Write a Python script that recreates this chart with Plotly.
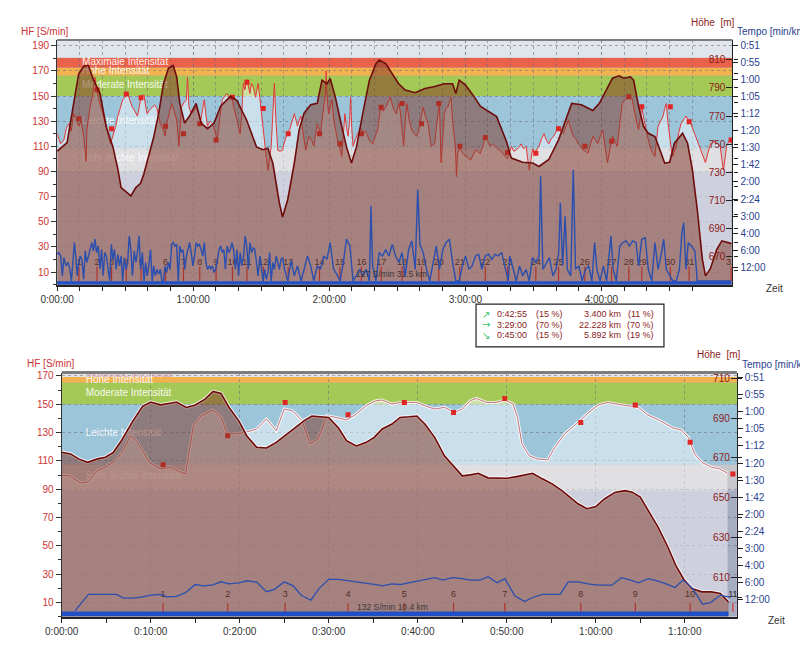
import plotly.graph_objects as go

FONT = "Liberation Sans, Arial, sans-serif"

# ======================= DATA: overview (whole tour) =======================
top_elev_t = [0.1, 4.4, 7.3, 9.5, 11.7, 13.8, 16.0, 18.9, 21.7, 24.6, 26.8, 28.2, 31.1, 32.5, 34.7, 36.8, 38.3, 40.4,
              42.6, 44.8, 46.9, 49.1, 51.2, 52.7, 54.1, 56.2, 58.4, 61.3, 63.5, 66.3, 69.2, 72.1, 76.4, 79.3, 83.6,
              87.9, 90.8, 92.9, 95.1, 98.0, 99.4, 101.7, 104.6, 106.7, 108.9, 111.8, 114.7, 116.8, 119.0, 120.4,
              122.6, 125.5, 127.6, 129.8, 132.0, 134.8, 137.7, 140.6, 142.0, 144.9, 147.8, 150.6, 153.5, 157.9,
              162.2, 166.5, 170.8, 174.4, 175.8, 177.3, 180.1, 183.8, 186.6, 189.5, 193.8, 198.1, 200.3, 205.3,
              209.7, 212.5, 216.8, 221.1, 224.0, 226.9, 231.2, 236.2, 239.1, 242.0, 244.9, 247.8, 249.9, 252.8,
              254.2, 256.4, 258.6, 260.7, 263.6, 265.8, 267.9, 270.1, 272.2, 275.8, 278.0, 280.1, 282.3, 284.5,
              285.9, 288.0, 290.9, 293.1, 297.4]
top_elev_m = [745, 751, 779, 800, 805.5, 806, 796, 786, 762, 748, 732, 719, 715, 713, 719, 722, 729, 741,
              755, 772, 793, 804, 806, 798, 779, 765, 770, 779, 765, 761, 765, 777, 784, 781, 767,
              748, 746, 747, 736.5, 708, 698, 710.5, 736.5, 760, 772, 778, 779, 795.6, 793, 796.7,
              784, 762.5, 748, 736.5, 748, 772, 795.6, 807.4, 810, 807.4, 800, 793, 788.5, 786.6,
              789.7, 791, 793, 793, 786, 795.6, 792, 784, 777, 774, 769.6, 752, 740, 737,
              736.5, 734, 739, 753, 766, 779, 778, 774, 779, 788.5, 797, 798.7, 797, 798,
              795.6, 777, 762.5, 757.7, 755.4, 746, 736.5, 737, 750.6, 757.7, 750.6, 732, 703, 668,
              656, 661, 675, 681, 679]

top_hf_t = [0.1, 1.5, 3.0, 4.0, 5.2, 6.2, 7.3, 8.4, 9.5, 10.5, 11.7, 12.8, 13.1, 14.5, 15.6, 16.7, 17.4, 18.8, 19.9,
            21.0, 22.4, 23.5, 24.6, 25.7, 26.8, 27.8, 28.9, 30.0, 31.1, 32.2, 33.2, 34.3, 35.4, 36.1, 36.8, 37.6,
            38.3, 39.0, 39.7, 40.8, 41.9, 43.0, 44.0, 44.8, 45.5, 46.2, 46.9, 47.6, 48.3, 49.4, 50.5, 51.6, 52.7,
            53.7, 54.3, 54.8, 56.0, 57.0, 57.5, 58.1, 59.1, 60.2, 61.3, 62.3, 63.4, 64.2, 64.9, 65.6, 66.3, 67.4,
            68.5, 69.6, 70.6, 71.7, 72.8, 73.9, 75.0, 76.0, 77.1, 77.8, 78.6, 79.7, 80.7, 81.4, 82.1, 82.8, 83.6,
            84.3, 85.0, 85.7, 86.5, 87.5, 88.6, 89.3, 90.1, 90.8, 91.5, 92.3, 93.0, 93.7, 94.4, 95.1, 95.8, 96.5,
            97.3, 98.3,
            99.4, 100.0, 101.0, 101.8, 102.5, 103.6, 104.6, 105.3, 106.0, 106.8, 107.5, 108.5, 109.6, 110.3,
            111.1, 112.2, 113.2, 114.0, 114.7, 115.4, 116.1, 116.9, 117.6, 118.3, 118.6, 119.0, 119.7, 120.4,
            121.2, 121.9, 122.6, 123.3, 124.0, 124.8, 125.5, 126.2, 126.9, 127.6, 128.3, 129.0, 129.4, 129.9,
            130.5, 131.6, 132.7, 133.8, 134.8, 135.9, 137.0, 138.0, 139.1, 140.2, 141.3, 142.0, 142.7, 143.8,
            144.9, 145.9, 147.0, 147.8, 148.5, 149.6, 150.6, 151.3, 152.1, 152.8, 153.5, 154.2, 155.3, 156.4,
            157.5, 158.6, 159.3, 160.0, 160.7, 161.4, 162.5, 163.6, 164.3, 165.0, 165.7, 166.5, 167.2, 167.9,
            168.6, 169.3, 170.0, 170.8, 171.5, 172.2, 173.0, 173.7, 174.4, 175.1, 175.6, 176.1, 176.6, 177.3,
            178.0, 179.1, 180.1, 181.2, 182.3, 183.4, 184.5, 185.5, 186.6, 187.7, 188.8, 189.9, 190.9, 192.0,
            193.1, 194.2, 195.3, 196.3, 197.4, 198.5,
            199.3, 200.3, 201.4, 202.4, 203.5, 204.6, 205.7, 206.8, 207.5, 208.2, 209.0, 209.7, 210.4, 211.5,
            212.5, 213.6, 214.7, 215.7, 216.8, 217.9, 219.0, 220.1, 221.1, 222.2, 223.3, 224.4, 225.5, 226.5,
            227.6, 228.7, 229.8, 230.8, 231.9, 233.0, 234.1, 235.2, 236.3, 237.3, 238.4, 239.5, 240.6, 241.6,
            242.7, 243.8, 244.9, 246.0, 247.0, 248.1, 249.2, 250.3, 251.4, 252.4, 253.5, 254.3, 255.0, 255.7,
            256.4, 257.1, 257.8, 258.5, 259.3, 260.3, 261.4, 262.5, 263.6, 264.3, 265.0, 266.1, 267.2, 267.9,
            268.6, 269.3, 270.1, 270.8, 271.5, 272.2, 273.0, 274.0, 275.1, 276.2, 277.3, 278.4, 279.4, 280.5,
            281.6, 282.7, 283.7, 284.8, 285.9, 287.0, 288.1, 289.1, 290.2, 291.3, 292.4, 293.1, 293.8, 294.5,
            295.2, 296.0, 296.7, 297.4]
top_hf = [120, 112, 115, 124, 128, 122, 136, 132, 126, 130, 118, 98, 123, 141, 150, 165, 155, 144, 138,
          131, 120, 112, 118, 125, 134, 140, 147, 149, 152, 146, 141, 138, 134, 140, 147, 150,
          151, 142, 136, 139, 141, 143, 140, 133, 128, 125, 123, 118, 128, 136, 144, 138, 131,
          110, 132, 141, 145, 147, 165, 142, 136, 138, 141, 136, 131, 140, 147, 135, 126, 130,
          128, 122, 115, 132, 147, 150, 152, 148, 149, 142, 136, 128, 120, 135, 160, 155, 163,
          158, 152, 160, 157, 149, 160, 150, 136, 124, 110, 100, 91, 102, 110, 135, 160, 130,
          107, 106,
          107, 112, 118, 122, 123, 130, 136, 131, 126, 131, 134, 120, 107, 112,
          118, 115, 110, 120, 128, 124, 120, 132, 144, 152, 170, 150, 136, 142,
          147, 132, 123, 118, 112, 108, 102, 120, 136, 125, 118, 130, 149, 125,
          110, 116, 120, 125, 120, 122, 118, 114, 112, 118, 123, 132, 141, 138,
          141, 145, 149, 143, 139, 136, 144, 138, 125, 110, 130, 144, 130, 123,
          120, 118, 122, 128, 135, 141, 133, 128, 118, 110, 111, 112, 125, 136,
          144, 97, 120, 136, 140, 141, 145, 149, 130, 118, 110, 86, 104, 108,
          107, 104, 102, 101, 99, 103, 107, 106, 104.5, 110, 118, 114, 110, 112,
          110, 108, 107, 105, 103, 100,
          104, 110, 106, 107, 109, 112, 108, 110, 100, 91, 100, 108, 104.5, 108,
          110, 116, 120, 115, 112, 116, 118, 122, 126, 122, 120, 126, 131, 124,
          118, 116, 112, 110, 107, 106, 104.5, 112, 118, 115, 112, 118, 123, 110,
          97, 108, 118, 114, 110, 128, 144, 147, 149, 150, 148, 140, 134, 128,
          123, 132, 141, 134, 126, 118, 110, 105, 102, 115, 126, 130, 134, 140,
          144, 130, 118, 108, 102, 106, 110, 120, 128, 131, 134, 131, 128, 123,
          118, 112, 107, 102, 97, 105, 112, 113, 114, 112, 110, 100, 91, 100,
          110, 113, 115, 112]

top_tempo_t = [0.0, 0.7, 1.6, 2.3, 3.0, 3.9, 4.8, 5.6, 6.3, 7.1, 7.6, 8.2, 8.8, 9.5, 10.2, 10.9, 11.7, 12.4,
               13.1, 13.8, 14.5, 15.3, 16.0, 16.7, 17.4, 18.1, 18.9, 19.6, 20.3, 21.0, 21.7, 22.4, 23.2, 23.9,
               24.6, 25.3, 26.0, 26.8, 27.5, 28.2, 28.9, 29.6, 30.4, 31.1, 31.8, 32.5, 33.2, 34.0, 34.7, 35.4,
               36.1, 36.8, 37.6, 38.3, 39.0, 39.7, 40.4, 41.2, 41.9, 42.6, 43.3, 44.0, 44.8, 45.5, 46.2, 46.9,
               47.6, 48.3, 49.1, 49.8, 50.5, 51.2, 51.9, 52.7, 53.4, 54.1, 54.8, 55.5, 56.3, 57.0, 57.7, 58.4,
               59.1, 59.9, 60.6, 61.3, 62.0, 62.7, 63.5, 64.2, 64.9, 65.6, 66.3, 67.1, 67.8, 68.5, 69.2, 69.9,
               70.7, 71.4, 72.1, 72.8, 73.5, 74.2, 75.0, 75.7, 76.4, 77.1, 77.8, 78.6, 79.3, 80.0, 80.7, 81.4,
               82.2, 82.9, 83.6, 84.3, 85.0, 85.8, 86.5, 87.2, 87.9, 88.6, 89.4, 90.1, 90.8, 91.5, 92.2, 93.0,
               93.7, 94.4, 95.1, 95.8, 96.6, 97.3, 98.0, 98.7,
               99.4, 100.3, 101.7, 103.2, 104.6, 106.0, 107.5, 108.9, 110.4, 111.8, 113.2, 114.7, 116.1, 117.6,
               119.0, 120.4, 121.9, 123.3, 124.8, 126.2, 127.6, 129.1, 130.5, 131.9, 133.4, 134.8, 136.3, 137.7,
               138.4, 139.1, 140.6, 142.0, 143.5, 144.9, 146.3, 147.8, 149.2, 150.7, 152.1, 153.5, 155.0, 156.4,
               157.9, 159.0, 160.0, 161.4, 162.9, 164.3, 165.8, 167.2, 168.6, 170.1, 171.5, 173.0, 174.4, 175.8,
               177.3, 178.7, 180.1, 181.6, 183.0, 184.5, 185.9, 187.3, 188.8, 190.2, 191.7, 193.1, 194.5, 196.0,
               197.4, 198.9,
               199.6, 201.0, 202.5, 203.9, 205.3, 206.8, 208.2, 209.6, 211.1, 212.5, 213.2, 214.2, 215.7, 217.1,
               218.6, 220.0, 221.2, 221.9, 222.9, 224.0, 225.0, 226.5, 227.6, 228.6, 230.1, 231.5, 233.0, 234.4,
               235.8, 237.0, 238.0, 239.4, 240.9, 242.3, 244.2, 245.2, 246.6, 248.1, 249.5, 250.9, 252.4, 253.8,
               255.3, 256.4, 257.8, 259.3, 260.7, 262.2, 263.6, 265.0, 266.5, 267.5, 268.6, 270.1, 271.5, 273.0,
               274.4, 275.5, 276.3, 277.3, 278.3, 279.7, 281.2, 282.3, 284.5, 287.3, 290.9, 294.5, 297.1]
top_tempo_kmh = [8.9, 9.4, 8.4, 2.6, 7.9, 5.5, 6.5, 4.5, 1.1, 10.3, 12.3, 8.4, 2.6, 6.5, 8.4, 7.4, 1.6, 9.9,
                 6.5, 8.4, 10.3, 12.3, 9.9, 13.3, 9.4, 11.3, 4.5, 10.3, 2.6, 9.4, 8.4, 5.5, 1.1, 11.8,
                 7.4, 10.3, 4.5, 8.9, 5.5, 8.4, 1.1, 7.9, 4.5, 6.5, 14.2, 10.3, 2.6, 9.9, 6.5, 9.4,
                 14.2, 4.5, 9.4, 1.1, 6.5, 2.6, 5.5, 10.3, 1.1, 5.5, 2.6, 4.5, 3.1, 4.5, 1.1, 1.1,
                 5.5, 3.6, 6.5, 4.5, 11.8, 12.3, 11.3, 11.8, 1.1, 11.3, 9.4, 10.3, 4.5, 8.4, 10.3, 12.3,
                 9.4, 5.5, 8.4, 12.3, 11.3, 11.8, 10.3, 8.4, 12.3, 6.5, 4.5, 5.5, 4.5, 5.5, 3.6, 4.5,
                 7.4, 10.3, 11.3, 9.4, 10.3, 4.5, 11.3, 9.4, 10.3, 12.3, 10.3, 4.5, 10.3, 2.6, 9.4, 5.5,
                 8.4, 14.2, 11.3, 4.5, 12.3, 9.4, 10.8, 10.3, 6.5, 2.6, 8.4, 4.5, 1.1, 4.5, 1.6, 3.6,
                 9.4, 1.1, 6.5, 4.5, 8.4, 6.5, 4.5, 7.4,
                 7.9, 4.5, 1.1, 7.0, 2.6, 5.5, 1.1, 4.5, 8.4, 5.5, 1.1, 5.5, 4.5, 8.4,
                 7.4, 12.3, 4.5, 3.1, 1.1, 6.5, 13.3, 11.3, 1.1, 2.6, 4.5, 2.6, 4.5, 1.1,
                 23.0, 5.5, 1.1, 9.4, 8.4, 10.3, 8.4, 11.8, 8.4, 6.5, 9.4, 2.6, 10.3, 12.8,
                 4.5, 27.8, 11.8, 9.4, 4.5, 1.1, 6.5, 11.3, 4.5, 10.3, 12.3, 13.3, 6.5, 1.1,
                 1.1, 5.5, 8.4, 4.5, 5.5, 8.4, 8.9, 4.5, 8.4, 8.9, 7.4, 8.9, 8.4, 9.4,
                 5.5, 1.1,
                 8.4, 4.5, 1.1, 5.5, 2.6, 4.5, 1.1, 7.9, 6.5, 8.4, 31.7, 4.5, 6.5, 7.9,
                 2.6, 4.5, 9.4, 23.9, 5.5, 20.0, 4.5, 2.6, 33.6, 4.5, 5.5, 1.1, 4.5, 5.5,
                 1.1, 12.3, 4.5, 1.1, 5.5, 1.1, 14.2, 4.5, 1.1, 11.3, 12.3, 12.8, 11.3, 12.8,
                 12.3, 5.5, 13.3, 13.7, 4.5, 1.1, 12.3, 4.5, 9.4, 13.3, 4.5, 2.6, 1.1, 1.1,
                 4.5, 15.2, 18.1, 4.5, 12.3, 11.3, 9.9, 1.1, 1.1, 1.1, 1.1, 1.1, 1.1]

top_km_t = [9.6, 17.6, 24.0, 30.5, 37.0, 47.8, 55.7, 62.9, 70.1, 77.3, 83.7, 90.9, 101.9, 115.7, 124.7, 134.2,
            142.9, 152.1, 160.7, 168.3, 177.6, 188.8, 198.6, 211.1, 221.1, 232.7, 244.5, 252.1, 257.8, 270.4,
            278.7, 297.2]
top_km_hf = [132, 155, 124, 151.5, 148.6, 126, 120, 128, 115, 149, 161, 140, 120, 120, 112, 120,
             141, 144, 128, 144, 110, 117, 105, 104.5, 124, 110, 114, 149.4, 141.5, 141.5,
             129.6, 115]
top_summary = "127 S/min 31.5 km"

# ======================= DATA: detail (first 10.4 km) =======================
bot_elev_t = [0, 1.0, 1.9, 2.9, 4.0, 4.9, 5.8, 6.7, 8.0, 9.1, 10.0, 11.1, 12.0, 12.9, 14.0, 15.0, 16.1, 17.0,
              17.9, 18.8, 19.9, 20.8, 21.9, 23.0, 24.1, 25.0, 26.1, 27.2, 28.1, 29.1, 30.0, 31.1, 32.0, 33.1,
              34.2, 35.1, 36.0, 37.1, 38.0, 39.0, 39.9, 40.8, 41.9, 43.0, 44.1, 45.0, 45.9, 46.8, 47.9, 49.0,
              50.0, 51.1, 52.0, 52.9, 54.0, 55.1, 56.2, 58.0, 59.0, 60.0, 61.0, 62.2, 63.3, 64.1, 65.0, 65.9,
              67.0, 68.1, 69.0, 69.9, 70.8, 71.9, 73.0, 74.0, 74.9]
bot_elev_m = [672.8, 672, 669.5, 667.8, 669.5, 670.3, 672.8, 678.6, 688.6, 696, 698, 696.6, 697.3, 698, 695.3,
              696.5, 699.5, 703.3, 702.3, 695.3, 688.6, 681, 675.3, 675, 677.8, 681, 685, 688.6, 691, 690.6,
              690.3, 685, 678.6, 676, 677.8, 680.3, 684.5, 687, 690.3, 690.6, 691, 687, 680.3, 671, 665.3,
              661, 661.5, 662.3, 660, 659.8, 659.8, 660.6, 661.5, 662.3, 659.5, 657, 653.6, 647, 644.5,
              645.6, 649.5, 652.8, 653.6, 652.8, 650.3, 643.6, 635.3, 625.3, 616, 609, 604.5, 602.8, 602.8,
              602, 597.8]

bot_hf_t = [0, 0.8, 2.1, 2.9, 4.0, 4.9, 6.0, 6.9, 7.7, 8.4, 9.1, 9.8, 11.1, 12.2, 13.1, 13.9, 14.8, 15.7, 17.0,
            17.9, 18.6, 19.4, 20.6, 21.9, 23.0, 24.1, 25.0, 25.9, 27.0, 27.9, 28.8, 29.8, 31.1, 32.0, 33.1,
            34.2, 35.3, 36.0, 37.1, 38.1, 39.0, 39.9, 40.8, 41.9, 43.0, 44.1, 45.0, 45.9, 46.6, 47.7, 48.8,
            49.8, 50.7, 51.2, 51.7, 52.5, 53.4, 54.6, 55.4, 56.5, 58.0, 59.2, 60.3, 61.4, 62.4, 63.9, 64.8,
            65.8, 67.2, 68.7, 69.6, 70.4, 71.1, 71.9, 73.0, 73.9, 74.8]
bot_hf = [99.6, 99.6, 94.5, 95, 103, 105.5, 110, 117, 127.8, 124, 117, 109, 104.3, 105.5, 102.7, 100.8, 134.9,
          141.9, 145.9, 140.7, 129, 129, 130.1, 132.5, 139.6, 131.3, 146.6, 145.4, 138.4, 122, 125.5, 141.9,
          140.3, 138.9, 143.1, 148.9, 152.5, 153, 150.1, 151.3, 151.3, 151.3, 148.9, 146.6, 147.8, 144.2,
          146.6, 152.5, 154.1, 151.3, 151.3, 153, 150.1, 140.7, 122, 113.7, 111.4, 110.7, 119.6, 129, 137.2,
          144.2, 149.6, 151.3, 150.1, 148.9, 147.8, 142.6, 138.4, 133.2, 131.8, 126.6, 114.9, 109, 105.5,
          104.4, 101.3]

bot_tempo_t = [1.5, 3.0, 4.0, 5.1, 6.2, 6.9, 8.0, 9.1, 10.0, 11.1, 11.8, 12.9, 13.9, 15.0, 15.9, 17.0, 17.9,
               18.8, 19.9, 20.8, 21.9, 23.0, 23.9, 25.0, 26.0, 26.9, 28.0, 28.9, 30.0, 31.1, 32.0, 33.1, 34.2,
               35.3, 36.0, 37.1, 38.0, 39.0, 40.1, 41.1, 41.9, 42.8, 43.9, 45.0, 45.9, 47.0, 47.9, 48.9, 49.8,
               50.9, 52.0, 52.9, 54.0, 54.9, 56.0, 56.9, 58.0, 59.1, 60.2, 61.8, 62.9, 63.9, 64.8, 65.9, 67.0,
               67.9, 68.9, 69.8, 70.9, 72.0, 72.9, 74.0, 75.1]
bot_tempo_kmh = [1.7, 6.5, 6.5, 6.5, 6.5, 5.4, 5.4, 5.8, 6.3, 6.5, 5.8, 5.9, 7.0, 9.4, 9.0, 9.3, 10.2,
                 9.6, 9.9, 10.5, 10.1, 7.3, 8.0, 10.2, 9.0, 6.25, 4.8, 8.2, 10.9, 10.9, 10.6, 10.1, 9.9,
                 9.4, 9.0, 9.6, 9.4, 9.9, 10.4, 10.9, 11.4, 10.7, 11.4, 11.1, 10.7, 10.7, 11.7, 9.9, 11.1,
                 6.1, 4.4, 5.6, 6.5, 6.5, 6.5, 10.2, 10.2, 9.6, 9.2, 9.2, 11.4, 10.7, 9.9, 11.1, 10.4,
                 9.6, 8.5, 10.7, 8.2, 3.6, 4.1, 6.3, 5.6]

bot_km_t = [11.39, 18.65, 25.1, 32.17, 38.49, 44.02, 49.77, 58.31, 64.44, 70.6, 75.4]
bot_km_hf = [107.2, 127.8, 151.3, 142.6, 151.3, 144.2, 154.1, 137.2, 149.4, 123.1, 100.8]
bot_summary = "132 S/min 10.4 km"

# ======================= zones / labels / stats =======================
zone_names = ["Sehr leichte Intensität", "Leichte Intensität", "Moderate Intensität",
              "Hohe Intensität", "Maximale Intensität"]
top_zone_lo = [90, 108.5, 150, 166.3, 172.6]
top_zone_hi = [108.5, 150, 166.3, 172.6, 180.3]
bot_zone_lo = [89, 107.5, 150, 165.3, 169.3]
bot_zone_hi = [107.5, 150, 165.3, 169.3, 172.4]
top_zone_label_hf = [100.3, 129.6, 158.2, 169.6, 176.4]
bot_zone_label_hf = [99, 129.2, 157.4, 166.5, 170.9]

tempo_speed = [5, 10, 15, 20, 25, 30, 35, 40, 45, 50, 55, 60, 65, 70]
tempo_text = ["12:00", "6:00", "4:00", "3:00", "2:24", "2:00", "1:42", "1:30", "1:20", "1:12",
              "1:05", "1:00", "0:55", "0:51"]
top_time_ticks = [0, 60, 120, 180, 240]
top_time_text = ["0:00:00", "1:00:00", "2:00:00", "3:00:00", "4:00:00"]
bot_time_ticks = [0, 10, 20, 30, 40, 50, 60, 70]
bot_time_text = ["0:00:00", "0:10:00", "0:20:00", "0:30:00", "0:40:00", "0:50:00", "1:00:00", "1:10:00"]

stats_arrows = ["↗", "→", "↘"]
stats_time = ["0:42:55", "3:29:00", "0:45:00"]
stats_time_pct = ["(15 %)", "(70 %)", "(15 %)"]
stats_dist = ["3.400 km", "22.228 km", "5.892 km"]
stats_dist_pct = ["(11 %)", "(70 %)", "(19 %)"]

# ======================= styling =======================
ZONE_COLORS_TOP = ["#c6c6cb", "#9dc5da", "#a5c957", "#f3b24d", "#ea6249"]
ZONE_COLORS_BOT = ["#c6c6cb", "#9dc5da", "#a5c957", "#f3b24d", "#e4e3ea"]
LABEL_COLORS_TOP = ["rgba(255,255,255,0.92)"] * 5
LABEL_COLORS_BOT = ["rgba(255,255,255,0.92)"] * 4 + ["rgba(214,150,150,0.85)"]
LIGHT = "#e1e5ec"
BG = "#a6acc1"
HF_FILL = "rgba(255,255,255,0.45)"
ELEV_FILL = "rgba(128,55,40,0.52)"
HF_RED = "#cc3333"
ELEV_RED = "#8b1a1a"
TEMPO_BLUE = "#2b3f8f"


def px2paper_x(px):
    return px / 800.0


def px2paper_y(py):
    return 1 - py / 650.0


fig = go.Figure()
shapes = []
annotations = []


def add_panel(xa, ya, ya_e, ya_t, hf_t, hf, el_t, el, sp_t, sp, km_t, km_hf,
              zlo, zhi, zcols, zlabel_hf, zlabel_t, zlabel_cols, km_num_hf, km_tick_lo, km_tick_hi,
              hf_line, speed_w, halo, bar_top):
    xr, yr = xa, ya
    for lo, hi, col in zip(zlo, zhi, zcols):
        shapes.append(dict(type="rect", xref=xr + " domain", yref=yr, x0=0, x1=1, y0=lo, y1=hi,
                           fillcolor=col, line=dict(width=0), layer="below"))
    shapes.append(dict(type="rect", xref=xr + " domain", yref=yr, x0=0, x1=1, y0=zhi[-1], y1=300,
                       fillcolor=LIGHT, line=dict(width=0), layer="below"))
    fig.add_trace(go.Scatter(x=[zlabel_t] * len(zone_names), y=zlabel_hf, text=zone_names, mode="text",
                             textposition="middle right",
                             textfont=dict(family=FONT, size=10, color=zlabel_cols),
                             xaxis=xa, yaxis=ya, hoverinfo="skip"))
    if halo:
        fig.add_trace(go.Scatter(x=hf_t, y=hf, mode="lines", line=dict(color="rgba(255,255,255,0.8)", width=3),
                                 xaxis=xa, yaxis=ya, hoverinfo="skip"))
    fig.add_trace(go.Scatter(x=hf_t, y=hf, mode="lines", line=dict(color=hf_line, width=1),
                             fill="tozeroy", fillcolor=HF_FILL, xaxis=xa, yaxis=ya, hoverinfo="skip"))
    fig.add_trace(go.Scatter(x=km_t, y=km_hf, mode="markers",
                             marker=dict(symbol="square", size=5, color="#e02525", line=dict(width=0)),
                             xaxis=xa, yaxis=ya, hoverinfo="skip"))
    kx, ky = [], []
    for t in km_t:
        kx += [t, t, None]
        ky += [km_tick_lo, km_tick_hi, None]
    fig.add_trace(go.Scatter(x=kx, y=ky, mode="lines", line=dict(color="#e03030", width=1.2),
                             xaxis=xa, yaxis=ya, hoverinfo="skip"))
    fig.add_trace(go.Scatter(x=km_t, y=[km_num_hf] * len(km_t), text=[str(i + 1) for i in range(len(km_t))],
                             mode="text", textposition="middle center",
                             textfont=dict(family=FONT, size=9, color="#262626"),
                             xaxis=xa, yaxis=ya, hoverinfo="skip"))
    if halo:
        fig.add_trace(go.Scatter(x=el_t, y=el, mode="lines", line=dict(color="rgba(255,255,255,0.85)", width=3.5),
                                 xaxis=xa, yaxis=ya_e, hoverinfo="skip"))
    fig.add_trace(go.Scatter(x=el_t, y=el, mode="lines", line=dict(color="#6e0c0c", width=1.6),
                             fill="tozeroy", fillcolor=ELEV_FILL, xaxis=xa, yaxis=ya_e, hoverinfo="skip"))
    fig.add_trace(go.Scatter(x=sp_t, y=sp, mode="lines", line=dict(color="#2a4fae", width=speed_w),
                             xaxis=xa, yaxis=ya_t, hoverinfo="skip"))
    shapes.append(dict(type="rect", xref=xr, yref=yr, x0=0, x1=el_t[-1], y0=0, y1=bar_top,
                       fillcolor="#2150c4", line=dict(width=0), layer="above"))


add_panel("x", "y", "y2", "y3", top_hf_t, top_hf, top_elev_t, top_elev_m, top_tempo_t, top_tempo_kmh,
          top_km_t, top_km_hf, top_zone_lo, top_zone_hi, ZONE_COLORS_TOP, top_zone_label_hf, 11.0,
          LABEL_COLORS_TOP, 17.1, 2.9, 14.5, "#e23838", 1.4, False, 2.8)
add_panel("x2", "y4", "y5", "y6", bot_hf_t, bot_hf, bot_elev_t, bot_elev_m, bot_tempo_t, bot_tempo_kmh,
          bot_km_t, bot_km_hf, bot_zone_lo, bot_zone_hi, ZONE_COLORS_BOT, bot_zone_label_hf, 2.7,
          LABEL_COLORS_BOT, 15.1, 3.4, 9.7, "#c4707a", 1.3, True, 3.6)

top_xd = [px2paper_x(41), px2paper_x(731)]
top_yd = [px2paper_y(283.6), px2paper_y(38)]
bot_xd = [px2paper_x(45.7), px2paper_x(735.5)]
bot_yd = [px2paper_y(616.5), px2paper_y(371.7)]

GRID = "rgba(110,110,120,0.55)"
tickfont_x = dict(family=FONT, size=10, color="#333333")


def xaxis_cfg(dom, anchor, rng, tv, tt, minor_dt, minor_grid):
    return dict(domain=dom, anchor=anchor, range=rng, tickmode="array", tickvals=tv, ticktext=tt,
                ticks="outside", ticklen=5, tickcolor="#222", tickwidth=1, showline=True, linecolor="#222",
                linewidth=1.5, showgrid=True, gridcolor=GRID, griddash="dot", gridwidth=1, zeroline=False,
                tickfont=tickfont_x,
                minor=dict(dtick=minor_dt, tick0=0, ticks="outside", ticklen=5, tickcolor="#222",
                           showgrid=minor_grid, gridcolor=GRID, griddash="dot"))


def hf_cfg(dom, anchor, rng):
    return dict(domain=dom, anchor=anchor, range=rng, tick0=10, dtick=20, ticks="outside", ticklen=5,
                tickcolor="#333", showline=True, linecolor="#333", linewidth=1.2, showgrid=True,
                gridcolor=GRID, griddash="dot", zeroline=False,
                tickfont=dict(family=FONT, size=10, color=HF_RED),
                minor=dict(dtick=10, tick0=0, ticks="outside", ticklen=3, tickcolor="#333"))


def elev_cfg(over, anchor, rng):
    return dict(overlaying=over, anchor=anchor, side="right", range=rng, tick0=10, dtick=20, ticks="inside",
                ticklen=6, tickcolor="#222", ticklabelposition="inside", showgrid=False, zeroline=False,
                showline=True, linecolor="#222", linewidth=1.2,
                tickfont=dict(family=FONT, size=10, color=ELEV_RED),
                minor=dict(dtick=10, tick0=0, ticks="outside", ticklen=4, tickcolor="#222"))


def tempo_cfg(over, anchor):
    return dict(overlaying=over, anchor=anchor, side="right", range=[0, 71.5], tickmode="array",
                tickvals=tempo_speed, ticktext=tempo_text, ticks="outside", ticklen=5, tickcolor="#222",
                showgrid=False, zeroline=False, showline=False,
                tickfont=dict(family=FONT, size=10, color=TEMPO_BLUE))


fig.update_layout(
    width=800, height=650, margin=dict(l=0, r=0, t=0, b=0),
    paper_bgcolor="white", plot_bgcolor=BG, showlegend=False,
    font=dict(family=FONT, size=10),
    xaxis=xaxis_cfg(top_xd, "y", [0, 297.8], top_time_ticks, top_time_text, 10, True),
    yaxis=hf_cfg(top_yd, "x", [0, 194.6]),
    yaxis2=elev_cfg("y", "x", [649.7, 824.3]),
    yaxis3=tempo_cfg("y", "x"),
    xaxis2=xaxis_cfg(bot_xd, "y4", [0, 75.85], bot_time_ticks, bot_time_text, 5, False),
    yaxis4=hf_cfg(bot_yd, "x2", [0, 172.4]),
    yaxis5=elev_cfg("y4", "x2", [590.4, 712.8]),
    yaxis6=tempo_cfg("y4", "x2"),
)

for xd, yd, w in ((top_xd, top_yd, 2), (bot_xd, bot_yd, 3)):
    shapes.append(dict(type="line", xref="paper", yref="paper", x0=xd[0], x1=xd[1], y0=yd[1], y1=yd[1],
                       line=dict(color="#7d7d7d", width=w), layer="above"))

shapes.append(dict(type="rect", xref="paper", yref="paper", x0=px2paper_x(469), x1=px2paper_x(661),
                   y0=px2paper_y(346), y1=px2paper_y(303), fillcolor="white",
                   line=dict(color="#222", width=1.2), layer="above"))


def ann(text, x, y, color, size=10, xanchor="left", xref="paper", yref="paper", family=FONT):
    annotations.append(dict(text=text, x=x, y=y, xref=xref, yref=yref, showarrow=False, xanchor=xanchor,
                            yanchor="middle", font=dict(family=family, size=size, color=color)))


row_y = [313, 323.7, 334.3]
for i in range(3):
    py = px2paper_y(row_y[i])
    ann(stats_arrows[i], px2paper_x(479), py, "#2fbf64", 10, "center", family="DejaVu Sans")
    ann(stats_time[i], px2paper_x(523), py, "#8b2323", 9, "right")
    ann(stats_time_pct[i], px2paper_x(559.5), py, "#8b2323", 9, "right")
    ann(stats_dist[i], px2paper_x(619), py, "#8b2323", 9, "right")
    ann(stats_dist_pct[i], px2paper_x(653), py, "#8b2323", 9, "right")

ann("HF [S/min]", px2paper_x(2), px2paper_y(30), HF_RED, 10)
ann("Höhe  [m]", px2paper_x(687), px2paper_y(20.5), ELEV_RED, 10)
ann("Tempo [min/km]", px2paper_x(734), px2paper_y(29.5), TEMPO_BLUE, 10)
ann("Zeit", px2paper_x(763), px2paper_y(287), "#333333", 10)
ann("HF [S/min]", px2paper_x(8), px2paper_y(363), HF_RED, 10)
ann("Höhe  [m]", px2paper_x(693), px2paper_y(354), ELEV_RED, 10)
ann("Tempo [min/km]", px2paper_x(739), px2paper_y(363.5), TEMPO_BLUE, 10)
ann("Zeit", px2paper_x(765), px2paper_y(620), "#333333", 10)

ann(top_summary, 131.0, 8.4, "#3a3a3a", 8.5, "left", "x", "y")
ann(bot_summary, 33.0, 6.5, "#3a3a3a", 8.5, "left", "x2", "y4")

fig.update_layout(shapes=shapes, annotations=annotations)
fig.write_html("out.html")
